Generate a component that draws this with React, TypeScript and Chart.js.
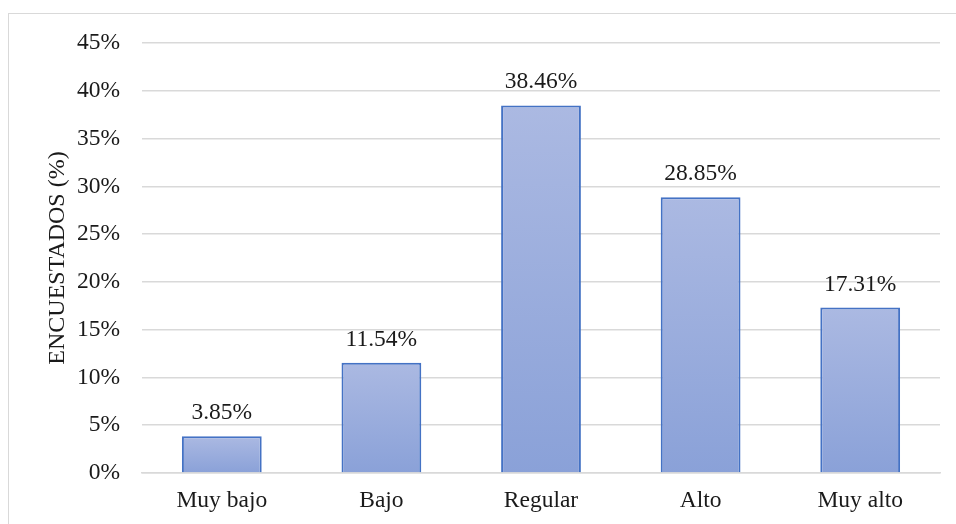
import React, { useEffect, useRef } from "react";
import { Chart, registerables } from "chart.js";

Chart.register(...registerables);

const categories = ["Muy bajo", "Bajo", "Regular", "Alto", "Muy alto"];
const values = [3.85, 11.54, 38.46, 28.85, 17.31];
const yMax = 45;
const yStep = 5;
const yTitle = "ENCUESTADOS (%)";

const FONT = "'Liberation Serif', 'Times New Roman', serif";
const TEXT = "#1a1a1a";

const dataLabels = {
  id: "dataLabels",
  afterDatasetsDraw(chart: any) {
    const { ctx } = chart;
    const meta = chart.getDatasetMeta(0);
    ctx.save();
    ctx.font = `23.5px ${FONT}`;
    ctx.fillStyle = TEXT;
    ctx.textAlign = "center";
    ctx.textBaseline = "alphabetic";
    meta.data.forEach((bar: any, i: number) => {
      ctx.fillText(values[i].toFixed(2) + "%", bar.x, bar.y - 17);
    });
    ctx.restore();
  },
};

export default function App() {
  const ref = useRef<HTMLCanvasElement | null>(null);

  useEffect(() => {
    if (!ref.current) return;
    const chart = new Chart(ref.current, {
      type: "bar",
      data: {
        labels: categories,
        datasets: [
          {
            data: values,
            backgroundColor: (c: any) => {
              const ch = c.chart;
              const area = ch.chartArea;
              const y = ch.scales && ch.scales.y;
              if (!area || !y || c.raw == null) return "#99acdc";
              const top = y.getPixelForValue(c.raw);
              const bottom = y.getPixelForValue(0);
              const g = ch.ctx.createLinearGradient(0, top, 0, Math.max(bottom, top + 1));
              g.addColorStop(0, "#abb9e2");
              g.addColorStop(1, "#8aa1d8");
              return g;
            },
            borderColor: "#4472c4",
            borderWidth: 2,
            borderSkipped: "bottom",
            barPercentage: 0.5,
            categoryPercentage: 1,
          },
        ],
      },
      options: {
        animation: false,
        responsive: true,
        maintainAspectRatio: false,
        layout: { padding: { left: 43, top: 43, right: 16, bottom: 0 } },
        plugins: {
          legend: { display: false },
          tooltip: { enabled: false },
        },
        scales: {
          x: {
            grid: { display: false, drawTicks: false },
            border: { display: true, color: "#d9d9d9", width: 1.5 },
            ticks: {
              font: { family: FONT, size: 23.5 },
              color: TEXT,
              padding: 14,
              maxRotation: 0,
            },
            afterFit: (s: any) => {
              s.height = 51;
            },
          },
          y: {
            min: 0,
            max: yMax,
            grid: { color: "#d9d9d9", lineWidth: 1.5, drawTicks: false },
            border: { display: false },
            ticks: {
              stepSize: yStep,
              font: { family: FONT, size: 23.5 },
              color: TEXT,
              padding: 22,
              callback: (v: any) => v + "%",
            },
            title: {
              display: true,
              text: yTitle,
              font: { family: FONT, size: 24 },
              color: TEXT,
              padding: 0,
            },
            afterFit: (s: any) => {
              s.width = 99;
            },
          },
        },
      },
      plugins: [dataLabels],
    });
    return () => chart.destroy();
  }, []);

  return (
    <div style={{ position: "fixed", left: 0, top: 0, width: 956, height: 524, background: "#fff", overflow: "hidden" }}>
      <div
        style={{
          position: "absolute",
          left: 8,
          top: 13,
          width: 980,
          height: 540,
          border: "1.5px solid #d9d9d9",
          boxSizing: "border-box",
        }}
      />
      <canvas ref={ref} style={{ position: "absolute", left: 0, top: 0 }} />
    </div>
  );
}
